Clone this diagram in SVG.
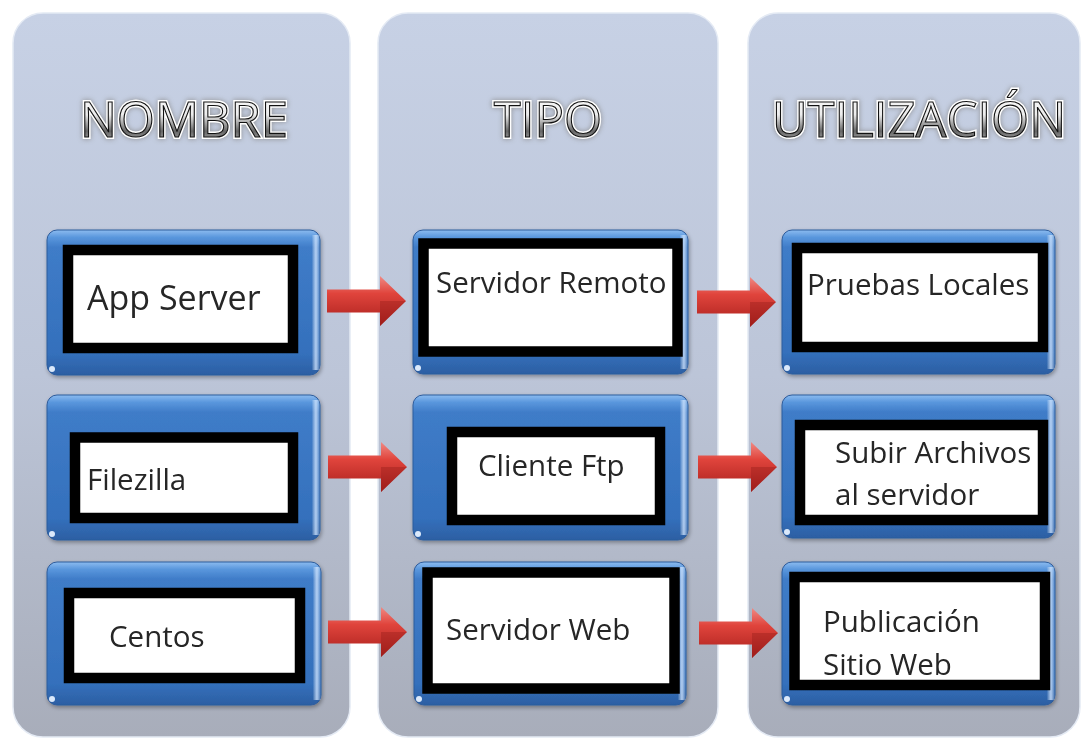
<svg xmlns="http://www.w3.org/2000/svg" width="1082" height="740" viewBox="0 0 1082 740">
<defs>
<linearGradient id="colGrad" x1="0" y1="0" x2="0" y2="1">
<stop offset="0" stop-color="#c7d1e5"/>
<stop offset="0.5" stop-color="#bcc5d8"/>
<stop offset="1" stop-color="#a8adba"/>
</linearGradient>
<linearGradient id="boxGrad" x1="0" y1="0" x2="0" y2="1">
<stop offset="0" stop-color="#8cbcf0"/>
<stop offset="0.05" stop-color="#5a97dd"/>
<stop offset="0.12" stop-color="#3f7cc8"/>
<stop offset="0.85" stop-color="#3470bc"/>
<stop offset="1" stop-color="#2c5fa3"/>
</linearGradient>
<linearGradient id="boxEdge" x1="0" y1="0" x2="1" y2="0">
<stop offset="0" stop-color="#ffffff" stop-opacity="0"/>
<stop offset="0.97" stop-color="#ffffff" stop-opacity="0"/>
<stop offset="0.985" stop-color="#cfe4ff" stop-opacity="0.8"/>
<stop offset="1" stop-color="#ffffff" stop-opacity="0"/>
</linearGradient>
<linearGradient id="arrowGrad" x1="0" y1="0" x2="0" y2="1">
<stop offset="0" stop-color="#f08a84"/>
<stop offset="0.35" stop-color="#e0443c"/>
<stop offset="1" stop-color="#a81f1c"/>
</linearGradient>
<linearGradient id="hdrGrad" x1="0" y1="0" x2="0" y2="1">
<stop offset="0" stop-color="#ffffff"/>
<stop offset="0.45" stop-color="#ececec"/>
<stop offset="0.7" stop-color="#666666"/>
<stop offset="1" stop-color="#dddddd"/>
</linearGradient>
<filter id="glow" x="-10%" y="-30%" width="120%" height="160%">
<feGaussianBlur stdDeviation="2.5"/>
</filter>
<filter id="shadow" x="-5%" y="-5%" width="110%" height="115%">
<feGaussianBlur in="SourceAlpha" stdDeviation="2"/>
<feOffset dx="1" dy="2" result="b"/>
<feComponentTransfer><feFuncA type="linear" slope="0.35"/></feComponentTransfer>
<feMerge><feMergeNode/><feMergeNode in="SourceGraphic"/></feMerge>
</filter>
<g id="arrow">
<path d="M0,-11.5 L53,-11.5 L53,-25 L79,0 L53,25 L53,11.5 L0,11.5 Z" fill="url(#arrowGrad)"/>
<path d="M53,0 L79,0 L53,25 Z" fill="#8e1a18" opacity="0.35"/>
</g>
</defs>
<style>
.col{fill:url(#colGrad);stroke:#e4eaf4;stroke-width:1.5}
.blue{fill:url(#boxGrad);stroke:#2d5c9c;stroke-width:1}
.edge{fill:url(#boxEdge)}
.frame{fill:#ffffff;stroke:#000000;stroke-width:10.5}
.dot{fill:#dbe9fb}
.lbl{font-family:"Open Sans","Noto Sans",sans-serif;font-size:29.5px;fill:#262626}
.big{font-size:34px}
.hdrglow{font-family:"Open Sans","Noto Sans",sans-serif;font-size:49px;fill:#8a8a8a;stroke:#8a8a8a;stroke-width:5;text-anchor:middle;opacity:0.75}
.hdr{font-family:"Open Sans","Noto Sans",sans-serif;font-size:49px;fill:url(#hdrGrad);stroke:#111;stroke-width:1.1;text-anchor:middle}
.hdrw{font-family:"Open Sans","Noto Sans",sans-serif;font-size:49px;fill:none;stroke:#ffffff;stroke-width:4;text-anchor:middle}
</style>
<rect width="1082" height="740" fill="#ffffff"/>

<g id="columns">
<rect class="col" x="13" y="13" width="337" height="724" rx="30"/>
<rect class="col" x="378" y="13" width="340" height="724" rx="30"/>
<rect class="col" x="748" y="13" width="332" height="724" rx="30"/>
</g>

<g id="headers">
<g id="hdr-nombre">
<text class="hdrglow" x="184" y="137" filter="url(#glow)">NOMBRE</text>
<text class="hdrw" x="184" y="137">NOMBRE</text>
<text class="hdr" x="184" y="137">NOMBRE</text>
</g>
<g id="hdr-tipo">
<text class="hdrglow" x="548" y="137" filter="url(#glow)">TIPO</text>
<text class="hdrw" x="548" y="137">TIPO</text>
<text class="hdr" x="548" y="137">TIPO</text>
</g>
<g id="hdr-utilizacion">
<text class="hdrglow" x="919" y="137" filter="url(#glow)">UTILIZACIÓN</text>
<text class="hdrw" x="919" y="137">UTILIZACIÓN</text>
<text class="hdr" x="919" y="137">UTILIZACIÓN</text>
</g>
</g>

<g id="connectors">
<use href="#arrow" x="327" y="301"/>
<use href="#arrow" x="697" y="302"/>
<use href="#arrow" x="328" y="467"/>
<use href="#arrow" x="698" y="467"/>
<use href="#arrow" x="328" y="632"/>
<use href="#arrow" x="699" y="633"/>
</g>

<g id="node-app-server" filter="url(#shadow)">
<rect class="blue" x="47" y="230" width="273" height="145" rx="10"/>
<rect class="edge" x="47" y="235" width="273" height="135"/>
<circle class="dot" cx="52" cy="369" r="3"/>
<rect class="frame" x="68" y="250" width="225" height="98"/>
<text class="lbl big" x="87" y="310">App Server</text>
</g>
<g id="node-servidor-remoto" filter="url(#shadow)">
<rect class="blue" x="413" y="230" width="275" height="144" rx="10"/>
<rect class="edge" x="413" y="235" width="275" height="134"/>
<circle class="dot" cx="418" cy="368" r="3"/>
<rect class="frame" x="423.5" y="243.5" width="254" height="108"/>
<text class="lbl" x="436" y="293">Servidor Remoto</text>
</g>
<g id="node-pruebas-locales" filter="url(#shadow)">
<rect class="blue" x="782" y="230" width="273" height="144" rx="10"/>
<rect class="edge" x="782" y="235" width="273" height="134"/>
<circle class="dot" cx="787" cy="368" r="3"/>
<rect class="frame" x="797" y="248" width="246" height="99"/>
<text class="lbl" x="807" y="295">Pruebas Locales</text>
</g>

<g id="node-filezilla" filter="url(#shadow)">
<rect class="blue" x="47" y="395" width="273" height="145" rx="10"/>
<rect class="edge" x="47" y="400" width="273" height="135"/>
<circle class="dot" cx="52" cy="534" r="3"/>
<rect class="frame" x="75" y="437.5" width="218" height="80.5"/>
<text class="lbl" x="87" y="490">Filezilla</text>
</g>
<g id="node-cliente-ftp" filter="url(#shadow)">
<rect class="blue" x="413" y="395" width="275" height="145" rx="10"/>
<rect class="edge" x="413" y="400" width="275" height="135"/>
<circle class="dot" cx="418" cy="534" r="3"/>
<rect class="frame" x="452" y="432" width="208" height="88"/>
<text class="lbl" x="478" y="476">Cliente Ftp</text>
</g>
<g id="node-subir-archivos" filter="url(#shadow)">
<rect class="blue" x="782" y="395" width="273" height="143" rx="10"/>
<rect class="edge" x="782" y="400" width="273" height="133"/>
<circle class="dot" cx="787" cy="532" r="3"/>
<rect class="frame" x="800" y="425" width="243" height="95"/>
<text class="lbl" x="835" y="463">Subir Archivos</text>
<text class="lbl" x="835" y="505">al servidor</text>
</g>

<g id="node-centos" filter="url(#shadow)">
<rect class="blue" x="47" y="562" width="274" height="143" rx="10"/>
<rect class="edge" x="47" y="567" width="274" height="133"/>
<circle class="dot" cx="52" cy="699" r="3"/>
<rect class="frame" x="69" y="593" width="231" height="85"/>
<text class="lbl" x="109" y="647">Centos</text>
</g>
<g id="node-servidor-web" filter="url(#shadow)">
<rect class="blue" x="414" y="562" width="272" height="143" rx="10"/>
<rect class="edge" x="414" y="567" width="272" height="133"/>
<circle class="dot" cx="419" cy="699" r="3"/>
<rect class="frame" x="427.5" y="572.5" width="247" height="116"/>
<text class="lbl" x="446" y="640">Servidor Web</text>
</g>
<g id="node-publicacion" filter="url(#shadow)">
<rect class="blue" x="782" y="562" width="273" height="143" rx="10"/>
<rect class="edge" x="782" y="567" width="273" height="133"/>
<circle class="dot" cx="787" cy="699" r="3"/>
<rect class="frame" x="794.5" y="577" width="250.5" height="108"/>
<text class="lbl" x="823" y="632">Publicación</text>
<text class="lbl" x="823" y="675">Sitio Web</text>
</g>
</svg>
